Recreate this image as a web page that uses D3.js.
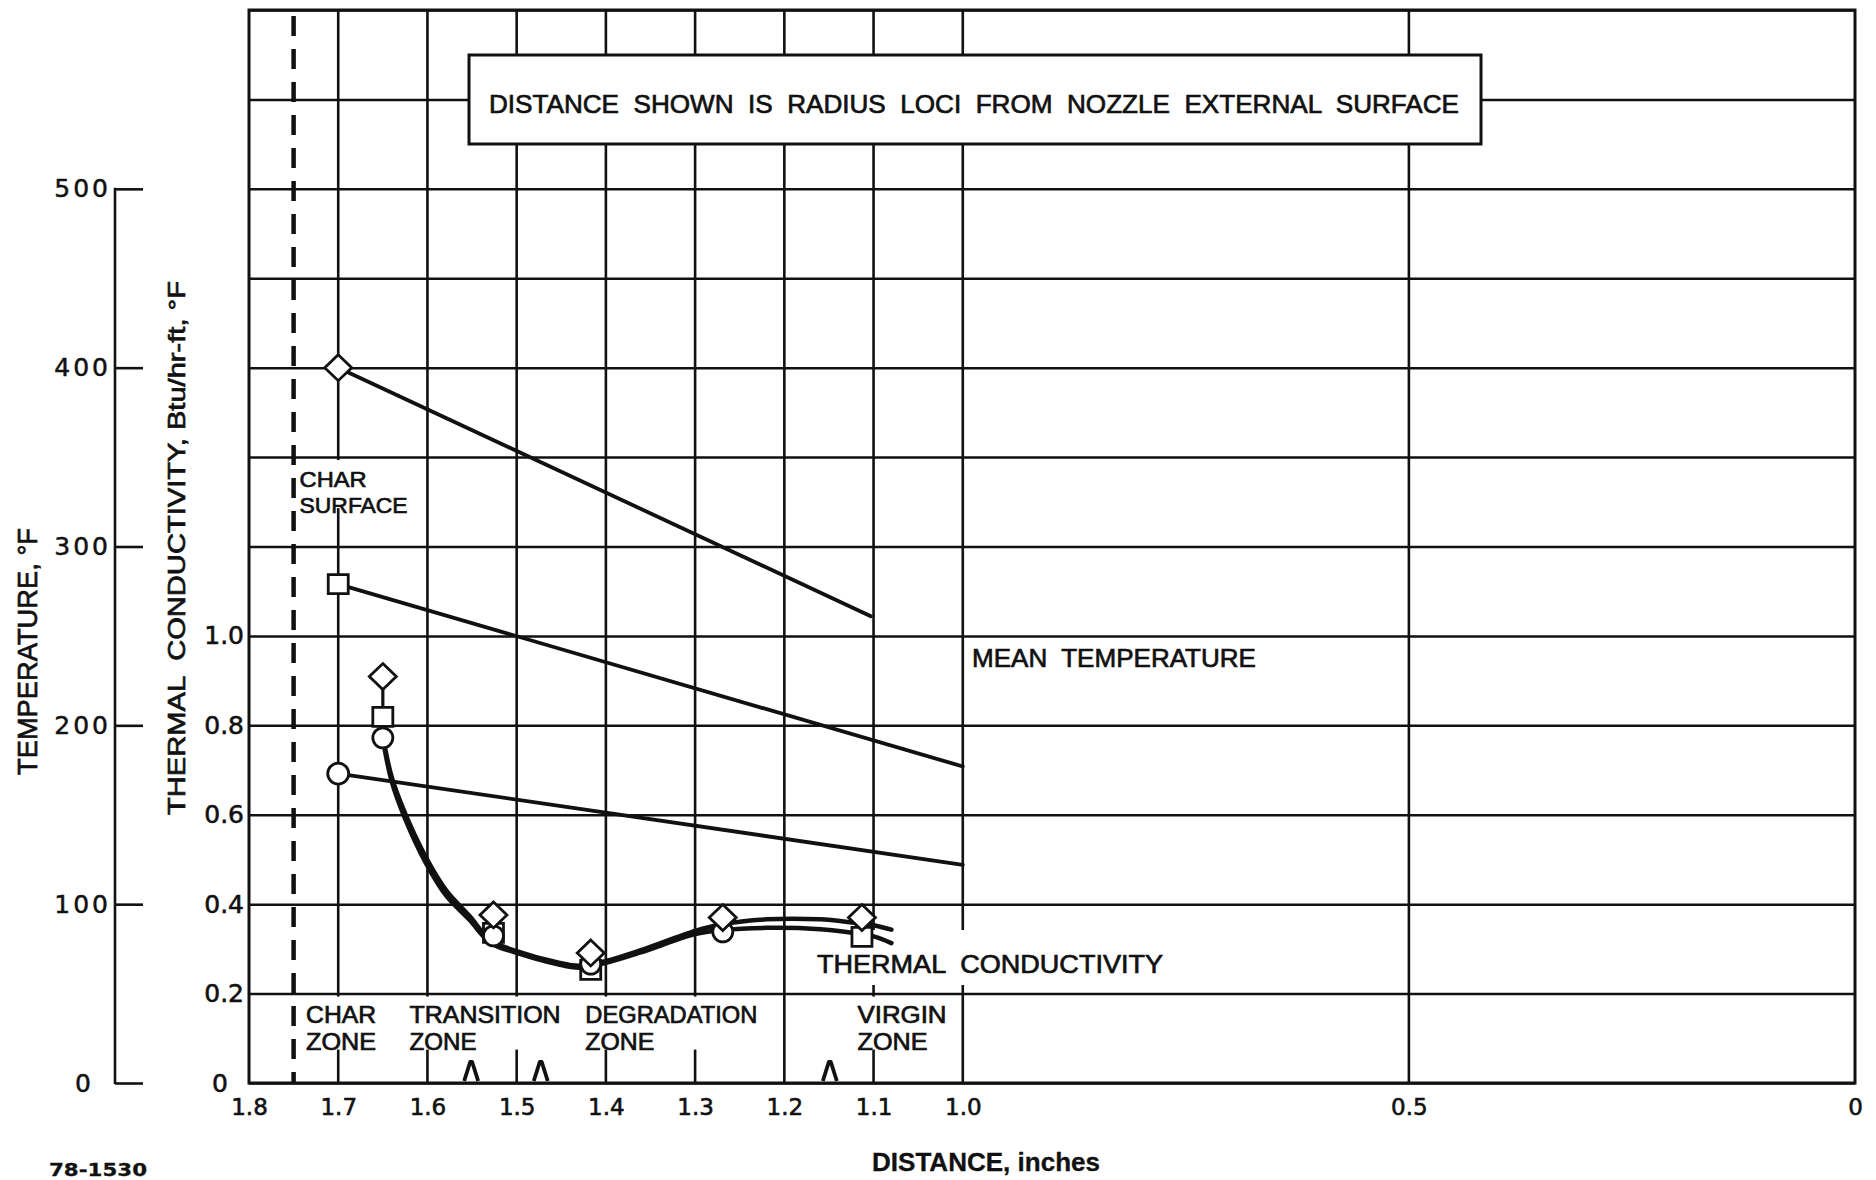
<!DOCTYPE html>
<html>
<head>
<meta charset="utf-8">
<script src="https://cdn.jsdelivr.net/npm/d3@7/dist/d3.min.js"></script>
<style>
  html, body { margin:0; padding:0; background:#fff; }
  svg { display:block; }
  text { fill:#111; }
</style>
</head>
<body>
<svg id="chart" width="1876" height="1180"></svg>
<script>
// ================= DATA =================
const distanceTicks      = [1.8, 1.7, 1.6, 1.5, 1.4, 1.3, 1.2, 1.1, 1.0, 0.5, 0];
const distanceTickLabels = ["1.8","1.7","1.6","1.5","1.4","1.3","1.2","1.1","1.0","0.5","0"];
const distanceGrid       = [1.7, 1.6, 1.5, 1.4, 1.3, 1.2, 1.1, 1.0, 0.5];

const conductivityGrid       = [0, 0.2, 0.4, 0.6, 0.8, 1.0, 1.2, 1.4, 1.6, 1.8, 2.0, 2.2, 2.4];
const conductivityTicks      = [0, 0.2, 0.4, 0.6, 0.8, 1.0];
const conductivityTickLabels = ["0", "0.2", "0.4", "0.6", "0.8", "1.0"];

const temperatureTicks      = [0, 100, 200, 300, 400, 500];
const temperatureTickLabels = ["0", "100", "200", "300", "400", "500"];

// Mean temperature (°F) lines vs distance (inches)
const meanTempDiamondDist = [1.7, 1.103];
const meanTempDiamond     = [400, 261];
const meanTempSquareDist  = [1.7, 1.0];
const meanTempSquare      = [279, 177];
const meanTempCircleDist  = [1.7, 1.0];
const meanTempCircle      = [173, 122];

// Thermal conductivity measurements (Btu/hr-ft-°F)
const condDist    = [1.65, 1.526, 1.417, 1.269, 1.113];
const condDiamond = [0.909, 0.376, 0.291, 0.370, 0.370];
const condSquare  = [0.819, 0.336, 0.253, null, 0.327];
const condCircle  = [0.772, 0.329, 0.266, 0.338, null];

// Faired thermal conductivity curves
const curveDist  = [1.65, 1.64, 1.625, 1.602, 1.579, 1.553, 1.529, 1.50, 1.455, 1.43, 1.40, 1.361, 1.30, 1.27, 1.22, 1.16, 1.124, 1.10, 1.08];
const curveUpper = [0.775, 0.684, 0.603, 0.506, 0.431, 0.374, 0.319, 0.295, 0.270, 0.262, 0.273, 0.297, 0.340, 0.355, 0.366, 0.366, 0.359, 0.353, 0.343];
const curveLower = [0.770, 0.674, 0.591, 0.493, 0.419, 0.365, 0.313, 0.291, 0.266, 0.258, 0.269, 0.292, 0.333, 0.342, 0.347, 0.344, 0.336, 0.328, 0.313];

const charSurfaceDist  = 1.75;
const zoneBoundaryDist = [1.551, 1.473, 1.149];
const zoneNames        = ["CHAR", "TRANSITION", "DEGRADATION", "VIRGIN"];
const zoneStartDist    = [1.736, 1.620, 1.423, 1.118];

// ================= LAYOUT =================
const X0 = 249, X1 = 1855, Y0 = 1083, Y1 = 10;
const INK = "#111";
const NUM_FONT = "DejaVu Sans";
const LBL_FONT = "Liberation Sans";
const zoneNameWidth = [70, 151, 172, 89];
const zoneWordWidth = [70, 67, 69, 70];

const x  = d3.scaleLinear().domain([1.8, 0]).range([X0, X1]);
const yK = d3.scaleLinear().domain([0, 2.4]).range([Y0, Y1]);
const yT = d3.scaleLinear().domain([0, 600]).range([Y0, Y1]);

const svg = d3.select("#chart");
svg.append("rect").attr("width", 1876).attr("height", 1180).attr("fill", "#fff");

// ---- horizontal grid + conductivity tick labels
const gH = svg.append("g").attr("transform", `translate(${X0},0)`)
  .call(d3.axisLeft(yK).tickValues(conductivityGrid).tickSize(-(X1 - X0)).tickPadding(5)
    .tickFormat(d => { const i = conductivityTicks.indexOf(d); return i < 0 ? "" : conductivityTickLabels[i]; }));
gH.select(".domain").remove();
gH.selectAll(".tick line").attr("stroke", INK).attr("stroke-width", 2.5);
gH.selectAll(".tick text").attr("font-family", NUM_FONT).attr("font-size", 25).attr("fill", INK)
  .attr("stroke", INK).attr("stroke-width", 0.6)
  .attr("dx", d => d === 0 ? -16 : 0);

// ---- vertical grid
svg.append("g").selectAll("line").data(distanceGrid).join("line")
  .attr("x1", d => x(d)).attr("x2", d => x(d))
  .attr("y1", Y1).attr("y2", Y0)
  .attr("stroke", INK).attr("stroke-width", 2.6);

// ---- frame
svg.append("rect").attr("x", X0).attr("y", Y1).attr("width", X1 - X0).attr("height", Y0 - Y1)
  .attr("fill", "none").attr("stroke", INK).attr("stroke-width", 3);

// ---- char surface dashed line
svg.append("line").attr("x1", x(charSurfaceDist)).attr("x2", x(charSurfaceDist))
  .attr("y1", Y1 + 6).attr("y2", Y0)
  .attr("stroke", INK).attr("stroke-width", 4.5).attr("stroke-dasharray", "20,13");

// ---- x tick labels
const gX = svg.append("g").attr("transform", `translate(0,${Y0})`)
  .call(d3.axisBottom(x).tickValues(distanceTicks).tickSize(0).tickPadding(16)
    .tickFormat((d, i) => distanceTickLabels[i]));
gX.select(".domain").remove();
gX.selectAll("text").attr("font-family", NUM_FONT).attr("font-size", 23).attr("fill", INK)
  .attr("stroke", INK).attr("stroke-width", 0.6);

// ---- temperature axis
const TX = 115;
const gT = svg.append("g").attr("transform", `translate(${TX},0)`)
  .call(d3.axisLeft(yT).tickValues(temperatureTicks).tickSize(-28).tickPadding(4)
    .tickFormat((d, i) => temperatureTickLabels[i]));
gT.select(".domain").remove();
gT.selectAll(".tick line").attr("stroke", INK).attr("stroke-width", 2.6);
gT.selectAll(".tick text").attr("font-family", NUM_FONT).attr("font-size", 25)
  .attr("letter-spacing", 3).attr("fill", INK).attr("stroke", INK).attr("stroke-width", 0.5)
  .attr("dx", d => d === 0 ? -17 : 0);
gT.append("line").attr("x1", 0).attr("x2", 0).attr("y1", yT(0) + 1).attr("y2", yT(500) - 1)
  .attr("stroke", INK).attr("stroke-width", 2.6);

// ---- knockouts (white gaps behind labels)
const knock = svg.append("g").attr("fill", "#fff");
knock.append("rect").attr("x", x(charSurfaceDist) + 3).attr("y", yK(1.4) + 3).attr("width", 113).attr("height", 48);
zoneStartDist.forEach((d, i) => {
  knock.append("rect").attr("x", x(d) - 3).attr("y", yK(0.2) + 3)
    .attr("width", Math.max(zoneNameWidth[i], zoneWordWidth[i]) + 6).attr("height", 53);
});
knock.append("rect").attr("x", 812).attr("y", 930).attr("width", 356).attr("height", 55);

// ---- labels
function styled(t, size, weight) {
  return t.attr("font-family", LBL_FONT).attr("font-size", size)
    .attr("font-weight", weight || "normal").attr("fill", INK)
    .attr("stroke", INK).attr("stroke-width", 0.7)
    .style("white-space", "pre");
}
function label(xp, yp, str, width, size) {
  const t = styled(svg.append("text"), size || 25).attr("x", xp).attr("y", yp).text(str);
  if (width) t.attr("textLength", width).attr("lengthAdjust", "spacingAndGlyphs");
  return t;
}
label(x(charSurfaceDist) + 6, 487, "CHAR", 67, 22.8);
label(x(charSurfaceDist) + 6, 512.5, "SURFACE", 108, 22.8);
zoneStartDist.forEach((d, i) => {
  label(x(d), 1023, zoneNames[i], zoneNameWidth[i], 23.5);
  label(x(d), 1049.5, "ZONE", zoneWordWidth[i], 23.5);
});
label(972, 667, "MEAN  TEMPERATURE", 284, 26);
label(817, 973, "THERMAL  CONDUCTIVITY", 346, 26);

// ---- axis titles
styled(svg.append("text"), 28).attr("transform", "translate(37,651.5) rotate(-90)")
  .attr("text-anchor", "middle")
  .attr("textLength", 247).attr("lengthAdjust", "spacingAndGlyphs")
  .text("TEMPERATURE, °F");
styled(svg.append("text"), 24).attr("transform", "translate(185,548) rotate(-90)")
  .attr("text-anchor", "middle")
  .attr("textLength", 534).attr("lengthAdjust", "spacingAndGlyphs")
  .text("THERMAL  CONDUCTIVITY, Btu/hr-ft, °F");
styled(svg.append("text"), 25, "bold").attr("x", 986).attr("y", 1171).attr("text-anchor", "middle")
  .attr("stroke-width", 0.3)
  .attr("textLength", 228).attr("lengthAdjust", "spacingAndGlyphs")
  .text("DISTANCE, inches");
styled(svg.append("text"), 18, "bold").attr("x", 49).attr("y", 1176)
  .attr("stroke-width", 0.3).attr("font-family", NUM_FONT)
  .attr("textLength", 98).attr("lengthAdjust", "spacingAndGlyphs")
  .text("78-1530");

// ---- annotation box
svg.append("rect").attr("x", 469).attr("y", 55).attr("width", 1012).attr("height", 89)
  .attr("fill", "#fff").attr("stroke", INK).attr("stroke-width", 3);
label(489, 112.5, "DISTANCE  SHOWN  IS  RADIUS  LOCI  FROM  NOZZLE  EXTERNAL  SURFACE", 970, 26);

// ---- mean temperature lines
const tLine = d3.line().x(d => x(d[0])).y(d => yT(d[1]));
[[meanTempDiamondDist, meanTempDiamond], [meanTempSquareDist, meanTempSquare], [meanTempCircleDist, meanTempCircle]]
  .forEach(([ds, vs]) => {
    svg.append("path").attr("d", tLine(ds.map((d, i) => [d, vs[i]])))
      .attr("fill", "none").attr("stroke", INK).attr("stroke-width", 3.8).attr("stroke-linecap", "round");
  });

// ---- conductivity curves
const kLine = d3.line().x(d => x(d[0])).y(d => yK(d[1])).curve(d3.curveCatmullRom.alpha(0.5));
[curveUpper, curveLower].forEach(vs => {
  svg.append("path").attr("d", kLine(curveDist.map((d, i) => [d, vs[i]])))
    .attr("fill", "none").attr("stroke", INK).attr("stroke-width", 4.5).attr("stroke-linecap", "round");
});

// ---- zone boundary marks
svg.append("g").selectAll("path").data(zoneBoundaryDist).join("path")
  .attr("d", d => `M${x(d) - 7},${Y0 - 2} L${x(d) - 1},${Y0 - 21} L${x(d) + 1},${Y0 - 21} L${x(d) + 7},${Y0 - 2}`)
  .attr("fill", "none").attr("stroke", INK).attr("stroke-width", 3.8).attr("stroke-linejoin", "round");

// ---- markers
const diamondPath = (cx, cy) => `M${cx},${cy - 13} L${cx + 13.5},${cy} L${cx},${cy + 13} L${cx - 13.5},${cy} Z`;
const squarePath  = (cx, cy) => `M${cx - 10},${cy - 9.5} h20 v19 h-20 Z`;
const mk = svg.append("g").attr("fill", "#fff").attr("stroke", INK).attr("stroke-width", 2.8);

// stems between separated diamond and square
condDist.forEach((d, i) => {
  if (condSquare[i] != null && yK(condSquare[i]) - yK(condDiamond[i]) > 30) {
    mk.append("line").attr("x1", x(d)).attr("x2", x(d))
      .attr("y1", yK(condDiamond[i])).attr("y2", yK(condSquare[i])).attr("stroke-width", 3.2);
  }
});
// mean temperature start markers
mk.append("circle").attr("cx", x(meanTempCircleDist[0])).attr("cy", yT(meanTempCircle[0])).attr("r", 10.5);
mk.append("path").attr("d", squarePath(x(meanTempSquareDist[0]), yT(meanTempSquare[0])));
mk.append("path").attr("d", diamondPath(x(meanTempDiamondDist[0]), yT(meanTempDiamond[0])));
// conductivity markers
condDist.forEach((d, i) => {
  if (condSquare[i] != null) mk.append("path").attr("d", squarePath(x(d), yK(condSquare[i])));
});
condDist.forEach((d, i) => {
  if (condCircle[i] != null) mk.append("circle").attr("cx", x(d)).attr("cy", yK(condCircle[i])).attr("r", 10);
});
condDist.forEach((d, i) => {
  mk.append("path").attr("d", diamondPath(x(d), yK(condDiamond[i])));
});
</script>
</body>
</html>
